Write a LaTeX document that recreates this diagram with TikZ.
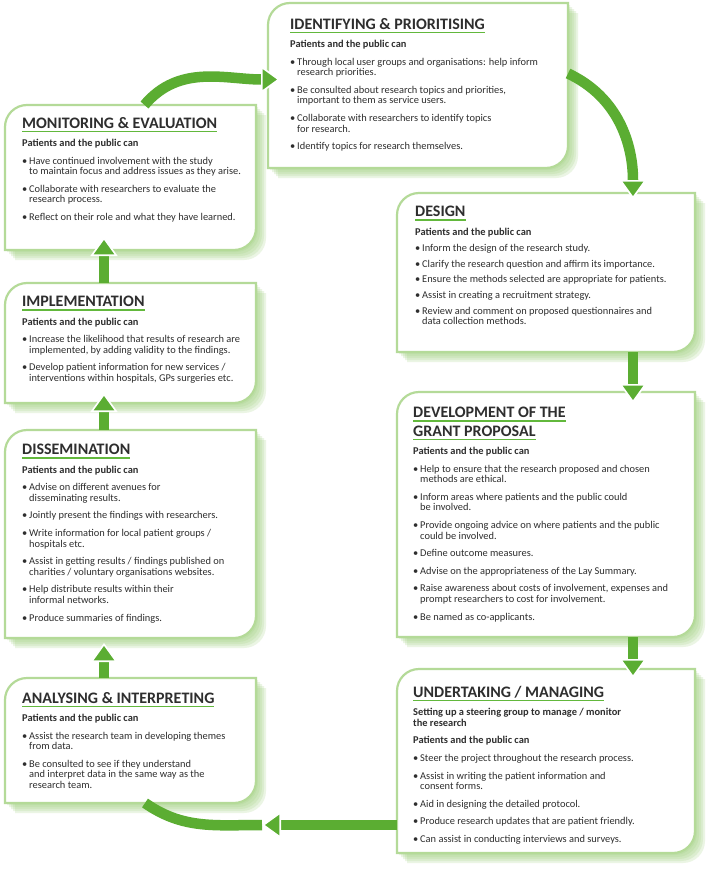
\documentclass[tikz,border=0pt]{standalone}
\usepackage{fontspec}
\setmainfont{Carlito}
\usepackage{xcolor}
\usetikzlibrary{arrows.meta,positioning}

\definecolor{flowgreen}{HTML}{5BAD32}
\definecolor{framegreen}{HTML}{B4DA98}
\definecolor{glowgreen}{HTML}{A5D386}
\definecolor{rulegreen}{HTML}{62B83C}
\definecolor{inkgray}{HTML}{2E2E2E}

\newsavebox\ttlbox
\newcommand\ttl[1]{\sbox\ttlbox{\fontsize{16}{17}\selectfont\bfseries #1}\rlap{\color{rulegreen}\rule[-4pt]{\wd\ttlbox}{1.6pt}}\usebox\ttlbox}
\newcommand\bl{\makebox[7pt][l]{\textbullet}}
\newcommand\ct{\hspace*{7pt}}
\newcommand\leaf[1]{(#1.north east) -- ([yshift=22pt]#1.south east) arc[start angle=0,end angle=-90,radius=22pt] -- (#1.south west) -- ([yshift=-22pt]#1.north west) arc[start angle=180,end angle=90,radius=22pt] -- cycle}

\begin{document}
\begin{tikzpicture}[x=1pt,y=1pt,
    stage/.style={anchor=north west, inner sep=0pt, outer sep=0pt},
    frame/.style={draw=framegreen, line width=2.2pt, fill=white},
    txt/.style={anchor=north west, inner sep=0pt, align=left, text=inkgray,
      font=\fontsize{10.4}{10.6}\selectfont},
    band/.style={draw=flowgreen, line width=10.5pt},
    flow/.style={band, -{Triangle[width=27pt,length=19pt,fill=flowgreen,color=white,line width=1.6pt]}}]
  \fill[white] (0,0) rectangle (708,-870);
  \useasboundingbox (0,0) rectangle (708,-870);

  \node[stage, minimum width=300pt, minimum height=165pt] (ident) at (268,-3) {};
  \node[stage, minimum width=251pt, minimum height=145pt] (mon) at (5,-105) {};
  \node[stage, minimum width=298pt, minimum height=159pt] (design) at (397,-193) {};
  \node[stage, minimum width=251pt, minimum height=120pt] (impl) at (5,-283) {};
  \node[stage, minimum width=298pt, minimum height=245pt] (dev) at (397,-392) {};
  \node[stage, minimum width=251pt, minimum height=208pt] (dis) at (5,-430) {};
  \node[stage, minimum width=251pt, minimum height=125pt] (ana) at (5,-678) {};
  \node[stage, minimum width=298pt, minimum height=184pt] (und) at (397,-669) {};

  % soft shadow, then the frame
  \foreach \n in {ident,mon,design,impl,dev,dis,ana,und}{
    \foreach \s in {2,4,...,10}
      \fill[glowgreen, opacity=0.22, transform canvas={shift={(\s,-\s)}}] \leaf{\n};
    \draw[frame] \leaf{\n};
  }

  \coordinate (anaIn) at ([shift={(6pt,-22pt)}]ana.south east);
  \draw[band] ([xshift=140pt]ana.south west) to[out=-35,in=180] (anaIn);

  \draw[flow] ([xshift=14pt]mon.north) to[out=50,in=180] ([shift={(12pt,6pt)}]ident.west);
  \draw[flow] ([yshift=12pt]ident.east) to[out=-25,in=90] ([shift={(-62pt,-6pt)}]design.north east);
  \draw[flow] ([xshift=-62pt]design.south east) -- ([shift={(-62pt,-11pt)}]dev.north east);
  \draw[flow] ([xshift=-62pt]dev.south east) -- ([shift={(-62pt,-9pt)}]und.north east);
  \draw[flow] ([yshift=28pt]und.south west) -- (anaIn);
  \draw[flow] ([xshift=99pt]ana.north west) -- ([shift={(99pt,-5pt)}]dis.south west);
  \draw[flow] ([xshift=99pt]dis.north west) -- ([shift={(99pt,10pt)}]impl.south west);
  \draw[flow] ([xshift=99pt]impl.north west) -- ([shift={(99pt,13pt)}]mon.south west);

  \node[txt] (identTxt) at ([shift={(22pt,-15pt)}]ident.north west) {%
    \ttl{IDENTIFYING \& PRIORITISING}\\[6pt]
    \textbf{Patients and the public can}\\[7pt]
    \bl Through local user groups and organisations: help inform\\
    \ct research priorities.\\[7pt]
    \bl Be consulted about research topics and priorities,\\
    \ct important to them as service users.\\[7pt]
    \bl Collaborate with researchers to identify topics\\
    \ct for research.\\[7pt]
    \bl Identify topics for research themselves.};

  \node[txt] (monTxt) at ([shift={(17pt,-12pt)}]mon.north west) {%
    \ttl{MONITORING \& EVALUATION}\\[6pt]
    \textbf{Patients and the public can}\\[7pt]
    \bl Have continued involvement with the study\\
    \ct to maintain focus and address issues as they arise.\\[7pt]
    \bl Collaborate with researchers to evaluate the\\
    \ct research process.\\[7pt]
    \bl Reflect on their role and what they have learned.};

  \node[txt] (designTxt) at ([shift={(18pt,-13pt)}]design.north west) {%
    \ttl{DESIGN}\\[6pt]
    \textbf{Patients and the public can}\\[6pt]
    \bl Inform the design of the research study.\\[5pt]
    \bl Clarify the research question and affirm its importance.\\[5pt]
    \bl Ensure the methods selected are appropriate for patients.\\[5pt]
    \bl Assist in creating a recruitment strategy.\\[5pt]
    \bl Review and comment on proposed questionnaires and\\
    \ct data collection methods.};

  \node[txt] (implTxt) at ([shift={(17pt,-13pt)}]impl.north west) {%
    \ttl{IMPLEMENTATION}\\[6pt]
    \textbf{Patients and the public can}\\[7pt]
    \bl Increase the likelihood that results of research are\\
    \ct implemented, by adding validity to the findings.\\[7pt]
    \bl Develop patient information for new services /\\
    \ct interventions within hospitals, GPs surgeries etc.};

  \node[txt] (devTxt) at ([shift={(16pt,-15pt)}]dev.north west) {%
    \ttl{DEVELOPMENT OF THE}\\[3pt]
    \ttl{GRANT PROPOSAL}\\[6pt]
    \textbf{Patients and the public can}\\[7pt]
    \bl Help to ensure that the research proposed and chosen\\
    \ct methods are ethical.\\[7pt]
    \bl Inform areas where patients and the public could\\
    \ct be involved.\\[7pt]
    \bl Provide ongoing advice on where patients and the public\\
    \ct could be involved.\\[7pt]
    \bl Define outcome measures.\\[7pt]
    \bl Advise on the appropriateness of the Lay Summary.\\[7pt]
    \bl Raise awareness about costs of involvement, expenses and\\
    \ct prompt researchers to cost for involvement.\\[7pt]
    \bl Be named as co-applicants.};

  \node[txt] (disTxt) at ([shift={(17pt,-14pt)}]dis.north west) {%
    \ttl{DISSEMINATION}\\[6pt]
    \textbf{Patients and the public can}\\[7pt]
    \bl Advise on different avenues for\\
    \ct disseminating results.\\[7pt]
    \bl Jointly present the findings with researchers.\\[7pt]
    \bl Write information for local patient groups /\\
    \ct hospitals etc.\\[7pt]
    \bl Assist in getting results / findings published on\\
    \ct charities / voluntary organisations websites.\\[7pt]
    \bl Help distribute results within their\\
    \ct informal networks.\\[7pt]
    \bl Produce summaries of findings.};

  \node[txt] (anaTxt) at ([shift={(17pt,-14pt)}]ana.north west) {%
    \ttl{ANALYSING \& INTERPRETING}\\[6pt]
    \textbf{Patients and the public can}\\[7pt]
    \bl Assist the research team in developing themes\\
    \ct from data.\\[7pt]
    \bl Be consulted to see if they understand\\
    \ct and interpret data in the same way as the\\
    \ct research team.};

  \node[txt] (undTxt) at ([shift={(16pt,-17pt)}]und.north west) {%
    \ttl{UNDERTAKING / MANAGING}\\[6pt]
    \textbf{Setting up a steering group to manage / monitor}\\
    \textbf{the research}\\[7pt]
    \textbf{Patients and the public can}\\[7pt]
    \bl Steer the project throughout the research process.\\[7pt]
    \bl Assist in writing the patient information and\\
    \ct consent forms.\\[7pt]
    \bl Aid in designing the detailed protocol.\\[7pt]
    \bl Produce research updates that are patient friendly.\\[7pt]
    \bl Can assist in conducting interviews and surveys.};
\end{tikzpicture}
\end{document}
